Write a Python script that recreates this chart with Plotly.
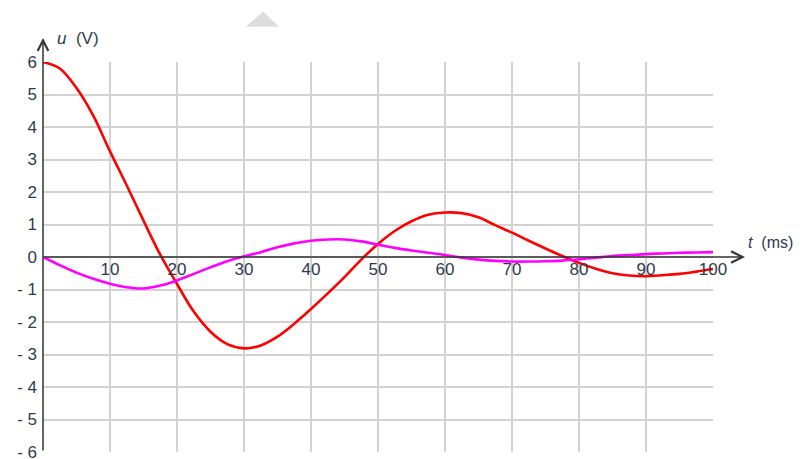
import plotly.graph_objects as go

t = [0, 2.5, 5, 7.5, 10, 12.5, 15, 17.5, 20, 22.5, 25, 27.5, 30, 32.5, 35, 37.5, 40,
     42.5, 45, 47.5, 50, 52.5, 55, 57.5, 60, 62.5, 65, 67.5, 70, 72.5, 75, 77.5, 80,
     82.5, 85, 87.5, 90, 92.5, 95, 97.5, 100]
u_red = [6.0, 5.8, 5.2, 4.35, 3.25, 2.2, 1.12, 0.07, -0.83, -1.68, -2.3, -2.68, -2.81,
         -2.72, -2.45, -2.05, -1.6, -1.12, -0.62, -0.08, 0.4, 0.8, 1.1, 1.3, 1.37, 1.35,
         1.22, 0.98, 0.75, 0.5, 0.26, 0.03, -0.18, -0.36, -0.5, -0.57, -0.59, -0.56,
         -0.52, -0.45, -0.37]
u_mag = [0.0, -0.25, -0.48, -0.67, -0.82, -0.93, -0.97, -0.88, -0.72, -0.52, -0.32,
         -0.13, 0.02, 0.15, 0.3, 0.42, 0.5, 0.54, 0.54, 0.48, 0.38, 0.28, 0.2, 0.13,
         0.06, -0.02, -0.08, -0.12, -0.14, -0.14, -0.13, -0.11, -0.07, -0.02, 0.03,
         0.06, 0.09, 0.11, 0.13, 0.14, 0.15]

x_ticks = [10, 20, 30, 40, 50, 60, 70, 80, 90, 100]
y_ticks = [-6, -5, -4, -3, -2, -1, 0, 1, 2, 3, 4, 5, 6]
y_labels = ["- 6", "- 5", "- 4", "- 3", "- 2", "- 1", "0", "1", "2", "3", "4", "5", "6"]

FONT = "Liberation Sans, Arial, sans-serif"
TXT = "#2f3b4c"
GRID = "#d2d2d2"

fig = go.Figure()
fig.add_trace(go.Scatter(x=t, y=u_red, mode="lines", line=dict(color="#ff0000", width=2.6, shape="spline"),
                         hoverinfo="skip", showlegend=False))
fig.add_trace(go.Scatter(x=t, y=u_mag, mode="lines", line=dict(color="#ff00ff", width=2.6, shape="spline"),
                         hoverinfo="skip", showlegend=False))

fig.update_layout(
    width=800, height=459,
    margin=dict(l=43, r=87, t=62, b=7),
    paper_bgcolor="white", plot_bgcolor="white",
    font=dict(family=FONT, size=17, color=TXT),
    xaxis=dict(range=[0, 100], tickvals=x_ticks, ticktext=[str(v) for v in x_ticks],
               showgrid=True, gridcolor=GRID, gridwidth=1.5, zeroline=False, showline=False,
               ticks="", anchor="free", position=0.5, tickfont=dict(size=17, color=TXT),
               ticklabeloverflow="allow", automargin=False, fixedrange=True),
    yaxis=dict(range=[-6, 6], tickvals=y_ticks, ticktext=y_labels,
               showgrid=True, gridcolor=GRID, gridwidth=1.5, zeroline=False, showline=False,
               ticks="", ticklabelstandoff=5, tickfont=dict(size=17, color=TXT),
               ticklabeloverflow="allow", automargin=False, fixedrange=True),
)

# axis arrows
fig.add_annotation(xref="paper", yref="y", x=(745 - 43) / 670, y=0, ax=-(745 - 43), ay=0,
                   axref="pixel", ayref="pixel", text="", showarrow=True, arrowhead=5,
                   arrowsize=1.5, arrowwidth=1.5, arrowcolor="#333333", standoff=0)
fig.add_annotation(xref="paper", yref="paper", x=0, y=(452 - 38) / 390, ax=0, ay=(452 - 38),
                   axref="pixel", ayref="pixel", text="", showarrow=True, arrowhead=5,
                   arrowsize=1.4, arrowwidth=1.5, arrowcolor="#333333", standoff=0)

# axis titles
fig.add_annotation(xref="paper", yref="paper", x=(55 - 43) / 670, y=(452 - 38) / 390,
                   text="<i>u</i>  (V)", showarrow=False, xanchor="left", yanchor="middle",
                   font=dict(family=FONT, size=17, color=TXT))
fig.add_annotation(xref="paper", yref="y", x=(746 - 43) / 670, y=0.45,
                   text="<i>t</i>  (ms)", showarrow=False, xanchor="left", yanchor="middle",
                   font=dict(family=FONT, size=16, color=TXT))

# light grey triangle artefact at top
fig.add_shape(type="path", xref="paper", yref="paper",
              path="M0.3025,1.0905 L0.3288,1.129 L0.3522,1.0905 Z",
              fillcolor="#dddddd", line=dict(width=0))

fig.write_html("out.html", config={"displayModeBar": False},
               post_script="document.body.style.margin='0';document.body.style.overflow='hidden';")
